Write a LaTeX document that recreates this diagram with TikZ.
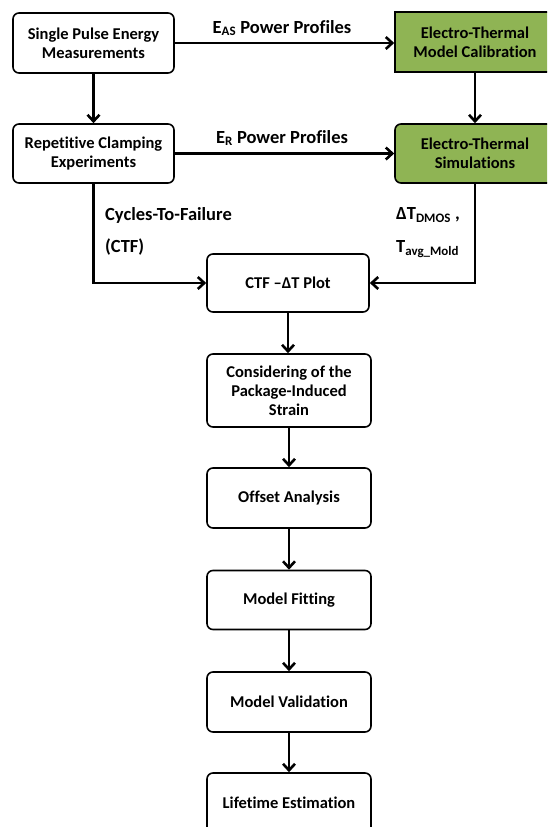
\documentclass[tikz,border=0pt]{standalone}
\usepackage{fontspec}
\setmainfont{Carlito}[Ligatures=NoCommon]
\usetikzlibrary{arrows.meta}
\definecolor{etgreen}{RGB}{143,180,84}
\tikzset{
  box/.style={draw=black, line width=1.6pt, rounded corners=6pt, fill=white,
    align=center, font=\fontsize{16.5}{19}\selectfont\bfseries, inner sep=0pt},
  gbox/.style={box, fill=etgreen},
  lab/.style={font=\fontsize{18.5}{20}\selectfont\bfseries, inner sep=0pt},
  arr/.style={line width=2.6pt, -{Straight Barb[length=6.5pt,width=12pt]}},
}
\begin{document}
\begin{tikzpicture}[x=1pt,y=-1pt]
\useasboundingbox (0,0) rectangle (547,827);
\begin{scope}
\clip (0,0) rectangle (547,827);
\node[box, minimum width=161pt, minimum height=60pt] (spe) at (93.5,43) {Single Pulse Energy\\Measurements};
\node[box, minimum width=161pt, minimum height=59pt] (rce) at (93.5,153.5) {Repetitive Clamping\\Experiments};
\node[gbox, rounded corners=0pt, minimum width=160pt, minimum height=60pt] (cal) at (475,42) {Electro-Thermal\\Model Calibration};
\node[gbox, minimum width=160pt, minimum height=59pt] (sim) at (475,153.5) {Electro-Thermal\\Simulations};
\node[box, minimum width=162pt, minimum height=58pt] (ctf) at (288,283) {CTF \textendash ΔT Plot};
\node[box, minimum width=164pt, minimum height=73pt] (pis) at (289,390.5) {Considering of the\\Package-Induced\\Strain};
\node[box, minimum width=164pt, minimum height=60pt] (off) at (289,498) {Offset Analysis};
\node[box, minimum width=164pt, minimum height=59pt] (fit) at (289,600) {Model Fitting};
\node[box, minimum width=164pt, minimum height=60pt] (val) at (289,702) {Model Validation};
\node[box, minimum width=164pt, minimum height=60pt] (life) at (289,803) {Lifetime Estimation};

\node[lab] (leas) at (282,28) {E\textsubscript{AS} Power Profiles};
\node[lab] (ler) at (282,138) {E\textsubscript{R} Power Profiles};
\node[lab, anchor=west] (lcyc) at (105,215) {Cycles-To-Failure};
\node[lab, anchor=west] (lctf) at (105,247) {(CTF)};
\node[lab, anchor=west] (ldt) at (396,215) {ΔT\textsubscript{DMOS} ,};
\node[lab, anchor=west] (ltavg) at (396,249) {T\textsubscript{avg\_Mold}};

\draw[arr] (spe.south) -- (rce.north);
\draw[arr] (spe.east) -- (spe.east -| cal.west);
\draw[arr] (rce.east) -- (rce.east -| sim.west);
\draw[arr] (cal.south) -- (sim.north);
\draw[arr, rounded corners=0pt] (rce.south) |- (ctf.west);
\draw[arr, rounded corners=0pt] (sim.south) |- (ctf.east);
\draw[arr] (ctf.south) -- (ctf.south |- pis.north);
\draw[arr] (pis.south) -- (off.north);
\draw[arr] (off.south) -- (fit.north);
\draw[arr] (fit.south) -- (val.north);
\draw[arr] (val.south) -- (life.north);
\end{scope}
\end{tikzpicture}
\end{document}
